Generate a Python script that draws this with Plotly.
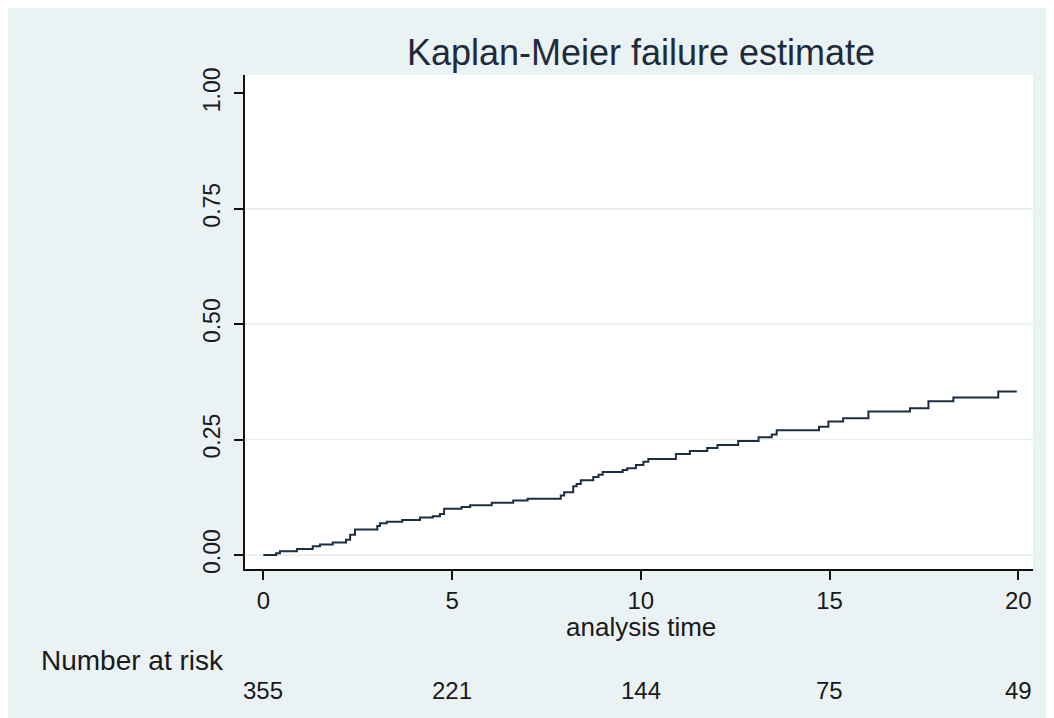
import plotly.graph_objects as go

# Kaplan-Meier failure estimate (step function)
times = [0, 0.34, 0.44, 0.89, 1.31, 1.50, 1.84, 2.19, 2.30, 2.43, 3.02, 3.09, 3.27, 3.68,
         4.15, 4.49, 4.68, 4.79, 5.25, 5.48, 6.05, 6.62, 7.00, 7.88, 7.97, 8.21, 8.30, 8.41,
         8.74, 8.88, 8.99, 9.52, 9.64, 9.87, 10.07, 10.20, 10.93, 11.30, 11.76, 12.03, 12.58,
         13.12, 13.47, 13.60, 14.72, 14.97, 15.36, 16.03, 17.13, 17.62, 18.28, 19.47, 19.96]
failure = [0, 0.004, 0.008, 0.013, 0.019, 0.023, 0.027, 0.033, 0.044, 0.055, 0.063, 0.069, 0.072,
           0.076, 0.081, 0.084, 0.089, 0.100, 0.104, 0.108, 0.113, 0.118, 0.122, 0.129, 0.136,
           0.149, 0.154, 0.162, 0.169, 0.174, 0.180, 0.184, 0.188, 0.195, 0.202, 0.208, 0.219,
           0.225, 0.232, 0.238, 0.247, 0.255, 0.261, 0.270, 0.278, 0.289, 0.296, 0.311, 0.318,
           0.333, 0.341, 0.354, 0.354]

x_ticks = [0, 5, 10, 15, 20]
y_ticks = [0, 0.25, 0.5, 0.75, 1.0]
y_tick_labels = ["0.00", "0.25", "0.50", "0.75", "1.00"]
at_risk = [355, 221, 144, 75, 49]

title_text = "Kaplan-Meier failure estimate"
x_title = "analysis time"
risk_label = "Number at risk"

BG = "#EAF2F3"
FONT = "Liberation Sans, Arial, sans-serif"
VW, VH = 1054, 718      # browser viewport
OFF = 8                 # page body margin offset
W, H = VW - OFF, VH - OFF
# target plot-area edges in screen pixels
SX0, SX1, SY0, SY1 = 245, 1033, 75, 569
L, R, T, B = SX0 - OFF, W - (SX1 - OFF), SY0 - OFF, H - (SY1 - OFF)
PW, PH = W - L - R, H - T - B


def px_x(p):
    return (p - SX0) / PW


def px_y(p):
    return (SY1 - p) / PH


fig = go.Figure()
fig.add_trace(go.Scatter(x=times, y=failure, mode="lines", line_shape="hv",
                         line=dict(color="#1c2e42", width=2), showlegend=False,
                         hoverinfo="skip"))

shapes = []
# faint horizontal grid lines
for v in y_ticks[:-1]:
    shapes.append(dict(type="line", xref="paper", yref="y", x0=0, x1=1, y0=v, y1=v,
                       line=dict(color="#E6EEF0", width=1.5), layer="below"))

annotations = []
annotations.append(dict(text=x_title, xref="x", yref="paper", x=10, y=px_y(627),
                        xanchor="center", yanchor="middle", showarrow=False,
                        font=dict(family=FONT, size=26, color="#1a1a1a")))
annotations.append(dict(text=risk_label, xref="paper", yref="paper", x=px_x(39), y=px_y(660),
                        xanchor="left", yanchor="middle", showarrow=False,
                        font=dict(family=FONT, size=28, color="#1a1a1a")))
for xv, n in zip(x_ticks, at_risk):
    annotations.append(dict(text=str(n), xref="x", yref="paper", x=xv, y=px_y(690),
                            xanchor="center", yanchor="middle", showarrow=False,
                            font=dict(family=FONT, size=24, color="#1a1a1a")))

fig.update_layout(
    width=W, height=H,
    margin=dict(l=L, r=R, t=T, b=B, pad=0),
    paper_bgcolor=BG, plot_bgcolor="white",
    title=dict(text=title_text, x=(641 - OFF) / W, xref="container", xanchor="center",
               y=1 - (52 - OFF) / H, yref="container", yanchor="middle",
               font=dict(family=FONT, size=36, color="#1f2b3a")),
    xaxis=dict(range=[-0.485, 20.39], tickvals=x_ticks, ticktext=[str(v) for v in x_ticks],
               showgrid=False, zeroline=False, showline=True, linecolor="#111111", linewidth=2,
               ticks="outside", ticklen=9, tickwidth=2, tickcolor="#111111",
               tickfont=dict(family=FONT, size=24, color="#1a1a1a")),
    yaxis=dict(range=[-0.0303, 1.0396], tickvals=y_ticks, ticktext=y_tick_labels,
               tickangle=-90, showgrid=False, zeroline=False, showline=True,
               linecolor="#111111", linewidth=2, ticks="outside", ticklen=9, tickwidth=2,
               tickcolor="#111111", ticklabelstandoff=5,
               tickfont=dict(family=FONT, size=23, color="#1a1a1a")),
    shapes=shapes, annotations=annotations,
)

fig.write_html("out.html")
